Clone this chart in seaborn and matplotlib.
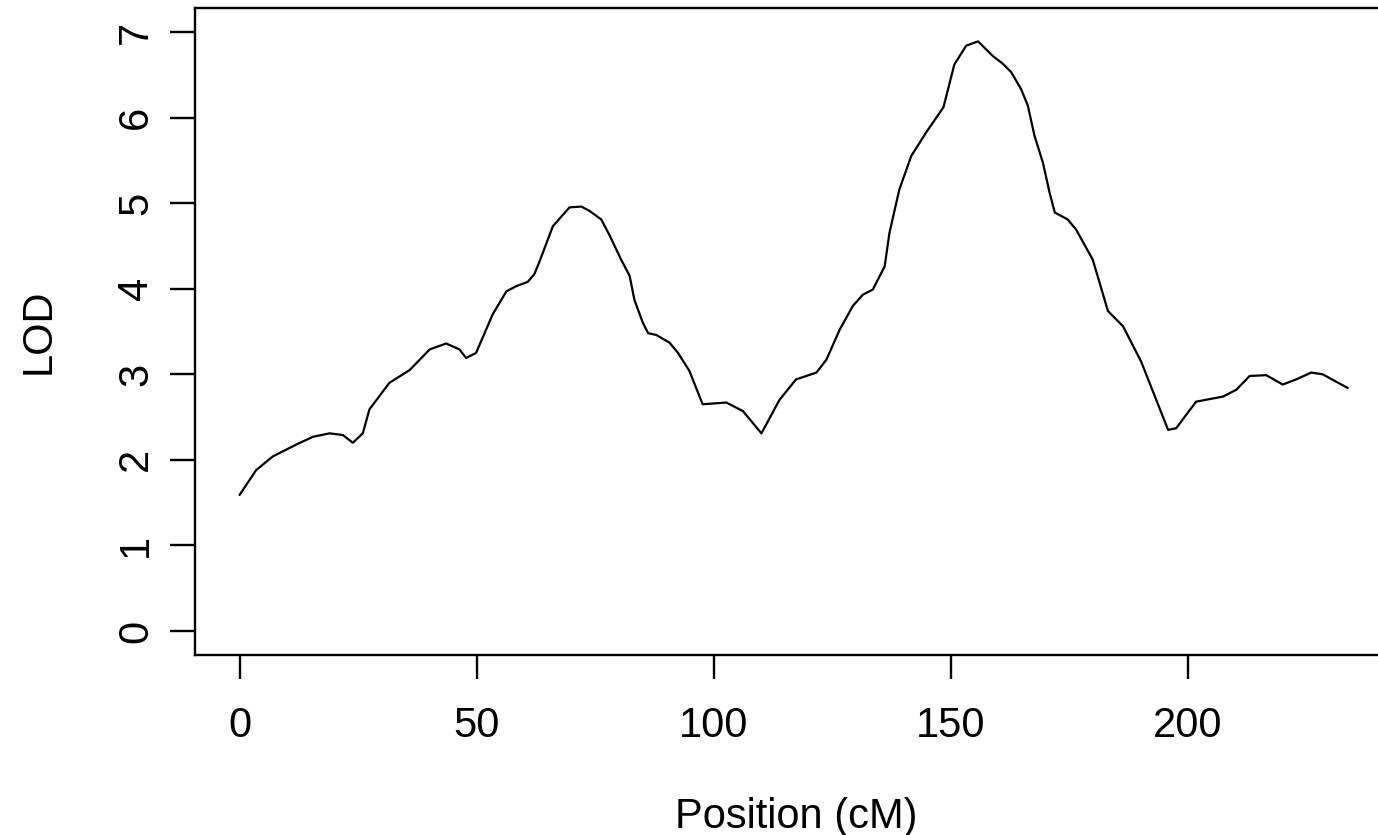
import matplotlib
matplotlib.use("Agg")
import matplotlib.pyplot as plt
import seaborn as sns
import pandas as pd

position = [0, 3.5, 7.0, 12.0, 15.5, 19.0, 21.8, 23.9, 26.0, 27.4, 31.6, 35.9, 40.1,
            43.6, 46.4, 47.8, 49.9, 53.4, 56.3, 58.4, 60.8, 62.2, 63.3, 66.1, 69.6,
            72.1, 73.8, 76.3, 78.1, 80.5, 82.3, 83.3, 85.1, 86.2, 87.9, 90.7, 92.5,
            94.9, 97.7, 102.7, 106.2, 110.1,
            113.9, 117.4, 121.7, 123.8, 126.6, 129.4, 131.5, 133.6, 136.1, 137.1, 139.2,
            141.7, 144.9, 148.5, 150.8, 153.3, 155.8, 158.9, 161.0, 162.8, 164.9, 166.3,
            167.7, 169.5, 170.9, 172.0, 174.7, 176.5,
            180.0, 183.2, 186.4, 190.2, 195.9, 197.6, 201.8, 207.5, 210.3, 213.1, 216.6,
            220.1, 222.9, 226.1, 228.5, 233.8]
lod = [1.59, 1.88, 2.04, 2.18, 2.27, 2.31, 2.29, 2.20, 2.31, 2.59, 2.90, 3.05, 3.29,
       3.36, 3.29, 3.19, 3.25, 3.70, 3.97, 4.03, 4.08, 4.17, 4.32, 4.73, 4.95,
       4.96, 4.91, 4.81, 4.62, 4.34, 4.15, 3.87, 3.60, 3.48, 3.46, 3.37, 3.25,
       3.04, 2.65, 2.67, 2.57, 2.31,
       2.70, 2.94, 3.02, 3.17, 3.52, 3.80, 3.93, 3.99, 4.26, 4.65, 5.16,
       5.55, 5.83, 6.12, 6.62, 6.84, 6.89, 6.72, 6.63, 6.53, 6.33, 6.14,
       5.79, 5.47, 5.12, 4.89, 4.81, 4.69,
       4.34, 3.74, 3.56, 3.15, 2.35, 2.37, 2.68, 2.74, 2.82, 2.98, 2.99,
       2.88, 2.94, 3.02, 3.00, 2.84]
x_ticks = [0, 50, 100, 150, 200]
y_ticks = [0, 1, 2, 3, 4, 5, 6, 7]
x_label = "Position (cM)"
y_label = "LOD"

df = pd.DataFrame({"pos": position, "lod": lod})

sns.set_theme(style="white")
plt.rcParams["font.family"] = ["Liberation Sans", "DejaVu Sans"]

W, H = 1378, 835
fig = plt.figure(figsize=(W / 100, H / 100), dpi=100)
left, right, top, bottom = 195, 1398, 8, 655
ax = fig.add_axes([left / W, 1 - bottom / H, (right - left) / W, (bottom - top) / H])

sns.lineplot(data=df, x="pos", y="lod", ax=ax, color="black", linewidth=1.6)

ax.set_xlim(-9.4, 244.4)
ax.set_ylim(-0.28, 7.28)
ax.set_xticks(x_ticks)
ax.set_yticks(y_ticks)
ax.set_xticklabels([str(v) for v in x_ticks])
ax.set_yticklabels([str(v) for v in y_ticks], rotation=90, va="center")

for s in ax.spines.values():
    s.set_color("black")
    s.set_linewidth(1.7)

ax.tick_params(axis="x", direction="out", length=17, width=1.7, color="black",
               labelsize=30, labelcolor="black", pad=20, bottom=True)
ax.tick_params(axis="y", direction="out", length=18, width=1.7, color="black",
               labelsize=30, labelcolor="black", pad=10, left=True)

ax.set_xlabel(x_label, fontsize=30, color="black")
ax.set_ylabel(y_label, fontsize=30, color="black")
ax.xaxis.set_label_coords(0.5, -0.22)
ax.yaxis.set_label_coords(-0.113, 0.5)

fig.savefig("out.png", dpi=100)
